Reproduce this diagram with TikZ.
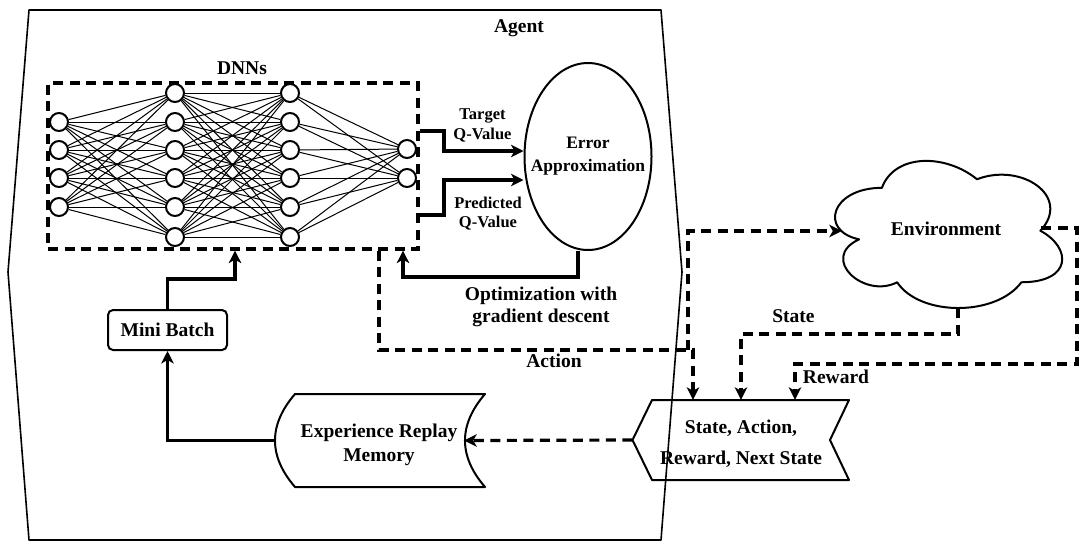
\documentclass[tikz,border=0pt]{standalone}
\usepackage{fontspec}
\setmainfont{Liberation Serif}
\usetikzlibrary{arrows.meta,calc,shapes.geometric}
\begin{document}
\begin{tikzpicture}[x=1pt,y=-1pt,
  font=\bfseries\fontsize{19.5}{24}\selectfont,
  tip/.style={-{Stealth[length=12.5pt,width=12.5pt,inset=3.5pt]}},
  strong/.style={line width=3.3pt, tip},
  dashline/.style={line width=3.2pt, dash pattern=on 10pt off 6.5pt},
  dasharrow/.style={dashline, tip},
  outline/.style={draw, line width=2pt, line join=round},
  neuron/.style={circle, draw, line width=2pt, fill=white, minimum size=18pt, inner sep=0pt},
  conn/.style={line width=1pt},
  lbl/.style={align=center, inner sep=0pt},
  small/.style={lbl, font=\bfseries\fontsize{16.5}{19.7}\selectfont},
]
\fill[white] (0,0) rectangle (1081,542);
\useasboundingbox (0,0) rectangle (1081,542);

% agent boundary
\draw[line width=1.6pt, line join=round] (29,10) -- (661,10) -- (682,272) -- (661,540) -- (29,540) -- (8,272) -- cycle;
\node[lbl] (agent) at (519,28) {Agent};

% deep neural network
\node[draw, dashline, minimum width=370pt, minimum height=166pt, inner sep=0pt] (dnn) at (233,166) {};
\node[lbl] (dnnlbl) at (242,68.5) {DNNs};
\foreach \y [count=\i] in {122,150,178,207} \node[neuron] (a\i) at (59,\y) {};
\foreach \y [count=\i] in {93,122,150,178,207,237} {
  \node[neuron] (b\i) at (175,\y) {};
  \node[neuron] (c\i) at (290,\y) {};
}
\foreach \y [count=\i] in {149,178} \node[neuron] (d\i) at (407,\y) {};
\foreach \i in {1,...,4} \foreach \j in {1,...,6} \draw[conn] (a\i) -- (b\j);
\foreach \i in {1,...,6} \foreach \j in {1,...,6} \draw[conn] (b\i) -- (c\j);
\foreach \i in {1,...,6} \foreach \j in {1,2} \draw[conn] (c\i) -- (d\j);

% error approximation
\node[ellipse, outline, minimum width=127pt, minimum height=187pt, inner sep=0pt] (err) at (588,156.5) {};
\node[lbl, font=\bfseries\fontsize{17.5}{23.4}\selectfont] (errtxt) at (588,156) {Error\\Approximation};

\draw[strong] (dnn.east |- 0,131) -- (444,131) -- (444,151) -- (err.west |- 0,151);
\draw[strong] (dnn.east |- 0,215) -- (444,215) -- (444,180) -- (err.west |- 0,180);
\node[small] (tq) at (482.5,125.4) {Target\\Q-Value};
\node[small] (pq) at (488,213.5) {Predicted\\Q-Value};

\draw[strong] ([xshift=-10pt]err.south) -- ++(0,26) -| ([xshift=170pt]dnn.south);
\node[lbl, font=\bfseries\fontsize{19.5}{21.5}\selectfont] (opt) at (541,306.7) {Optimization with\\gradient descent};

% mini batch and replay memory
\node[draw, rounded corners=5pt, line width=2pt, minimum width=119pt, minimum height=40pt, inner sep=0pt] (mini) at (167.5,330) {Mini Batch};
\draw[strong] (mini.north) -- ++(0,-30) -| ([xshift=2pt]dnn.south);

\node[minimum width=210pt, minimum height=93pt, inner sep=0pt] (mem) at (380,440.5) {};
\draw[outline] (295,394) -- (485,394) .. controls (458.3,425) and (458.3,456) .. (485,487)
  -- (295,487) .. controls (268.3,456) and (268.3,425) .. (295,394) -- cycle;
\node[lbl] (memtxt) at (379,444.8) {Experience Replay\\Memory};
\draw[strong] (mem.west) -| (mini.south);

% transition tuple
\node[minimum width=217pt, minimum height=80pt, inner sep=0pt] (sar) at (741,440) {};
\draw[outline] (652,400) -- (849,400) -- (830,440) -- (849,480) -- (652,480) -- (632.5,440) -- cycle;
\node[lbl, font=\bfseries\fontsize{19.5}{31}\selectfont] (sartxt) at (741,443.7) {State, Action,\\Reward, Next State};
\draw[dasharrow] (sar.west) -- ([xshift=-21pt]mem.east);

% environment
\draw[outline, shift={(818.5,144.9)}, x=253.6pt, y=-171.7pt]
  (0.25,0.25) .. controls (0.05,0.25) and (0,0.5) .. (0.16,0.55)
  .. controls (0,0.66) and (0.18,0.9) .. (0.31,0.8)
  .. controls (0.4,1) and (0.7,1) .. (0.8,0.8)
  .. controls (1,0.8) and (1,0.6) .. (0.875,0.5)
  .. controls (1,0.3) and (0.8,0.1) .. (0.625,0.2)
  .. controls (0.5,0.05) and (0.3,0.05) .. (0.25,0.25) -- cycle;
\node[minimum width=208pt, minimum height=158pt, inner sep=0pt] (env) at (946,229) {Environment};

% interaction loop
\coordinate (split) at (688,350);
\draw[dasharrow] (dnn.south -| 379,0) |- (693,350) -- (sar.north -| 693,0);
\draw[dasharrow] (split) |- ([yshift=-2pt]env.west);
\draw[dasharrow] (env.south -| 958,0) |- (741,334) -- (sar.north -| 741,0);
\draw[dasharrow] ([xshift=-9pt,yshift=1pt]env.east) -- (1077,228) -- (1077,364) -- (795,364) -- (sar.north -| 795,0);

\node[lbl] (actlbl) at (554,361) {Action};
\node[lbl] (stlbl) at (793.5,316) {State};
\node[lbl] (rwlbl) at (836,376.7) {Reward};
\end{tikzpicture}
\end{document}
